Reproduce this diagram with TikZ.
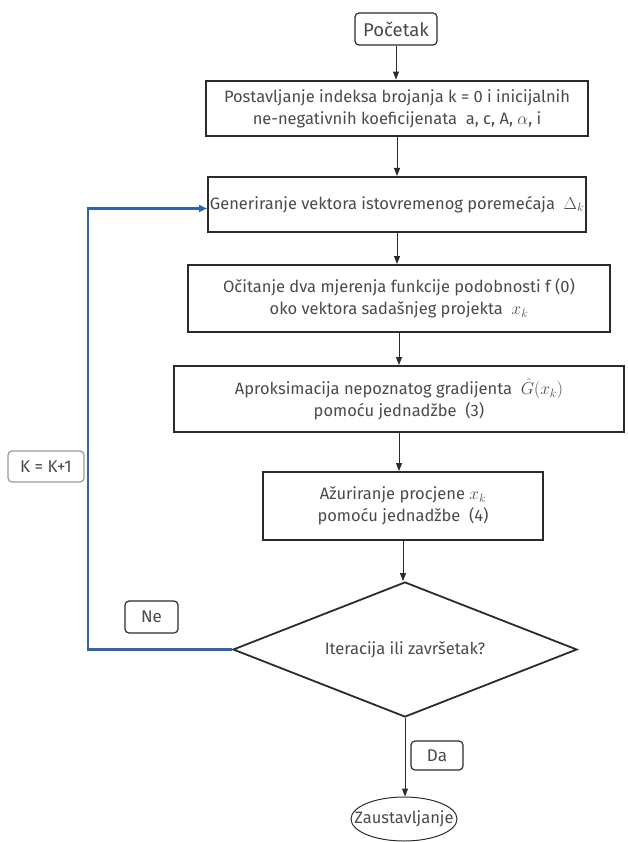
\documentclass[tikz,border=0pt]{standalone}
\usepackage{fontspec}
\setmainfont{Fira Sans}
\usetikzlibrary{shapes.geometric,arrows.meta}
\definecolor{txt}{HTML}{4A4A4A}
\definecolor{edge}{HTML}{2B2B2B}
\definecolor{loopblue}{HTML}{2E64B0}
\definecolor{lightedge}{HTML}{9A9A9A}
\tikzset{
  every node/.style={text=txt, font=\fontsize{16.5}{22}\selectfont},
  proc/.style={draw=edge, line width=2pt, rectangle, inner sep=0pt, align=center},
  tag/.style={draw=edge, line width=1.2pt, rounded corners=4pt, inner sep=0pt, align=center},
  flow/.style={draw=edge, line width=1pt, -{Triangle[length=8pt,width=6pt]}},
  back/.style={draw=loopblue, line width=2.4pt, -{Triangle[length=8pt,width=7pt]}},
}
\begin{document}
\begin{tikzpicture}[x=1pt,y=1pt]
\useasboundingbox (0,0) rectangle (627,-842);

\node[tag, minimum width=82, minimum height=32, font=\fontsize{18.5}{22}\selectfont] (start) at (396,-29) {Početak};

\node[proc, line width=2.8pt, minimum width=382, minimum height=55] (b1) at (397,-108.5)
  {Postavljanje indeksa brojanja k = 0 i inicijalnih\\ne-negativnih koeficijenata\ \ a, c, A, $\alpha$, i};

\node[proc, minimum width=378, minimum height=55] (b2) at (397,-204.5)
  {Generiranje vektora istovremenog poremećaja\ \ $\Delta_{k}$};

\node[proc, minimum width=422, minimum height=67] (b3) at (399,-298.5)
  {Očitanje dva mjerenja funkcije podobnosti f (0)\\oko vektora sadašnjeg projekta\ \ $x_{k}$};

\node[proc, minimum width=450, minimum height=66] (b4) at (399,-399)
  {Aproksimacija nepoznatog gradijenta\ \ $\hat{G}(x_{k})$\\pomoću jednadžbe\ \ (3)};

\node[proc, minimum width=280, minimum height=68] (b5) at (403,-506)
  {Ažuriranje procjene $x_{k}$\\pomoću jednadžbe\ \ (4)};

\node[diamond, draw=edge, line width=1.8pt, inner sep=0pt, aspect=2.5,
      minimum width=344, minimum height=135] (dec) at (405,-649.5) {Iteracija ili završetak?};

\node[ellipse, draw=edge, line width=1pt, inner sep=0pt, minimum width=106, minimum height=44] (stop) at (404,-819)
  {\makebox[0pt]{Zaustavljanje}};

\node[tag, draw=lightedge, minimum width=76, minimum height=31, font=\fontsize{17}{20}\selectfont] (inc) at (46,-466.5) {K = K+1};
\node[tag, minimum width=53, minimum height=32, font=\fontsize{17}{20}\selectfont] (ne) at (151.5,-617) {Ne};
\node[tag, minimum width=52, minimum height=29, font=\fontsize{17}{20}\selectfont] (da) at (437,-755.5) {Da};

\draw[flow] (start.south) -- (start.south |- b1.north);
\draw[flow] (b1.south) -- (b1.south |- b2.north);
\draw[flow] (b2.south) -- (b2.south |- b3.north);
\draw[flow] (b3.south) -- (b3.south |- b4.north);
\draw[flow] (b4.south) -- (b4.south |- b5.north);
\draw[flow] (b5.south) -- (b5.south |- dec.north);
\draw[flow] (dec.south) -- (dec.south |- stop.north);

\coordinate (lx) at (88,0);
\coordinate (entry) at ([yshift=-4pt]b2.west);
\draw[back] (dec.west) -- (dec.west -| lx) -- (entry -| lx) -- (entry);
\end{tikzpicture}
\end{document}
